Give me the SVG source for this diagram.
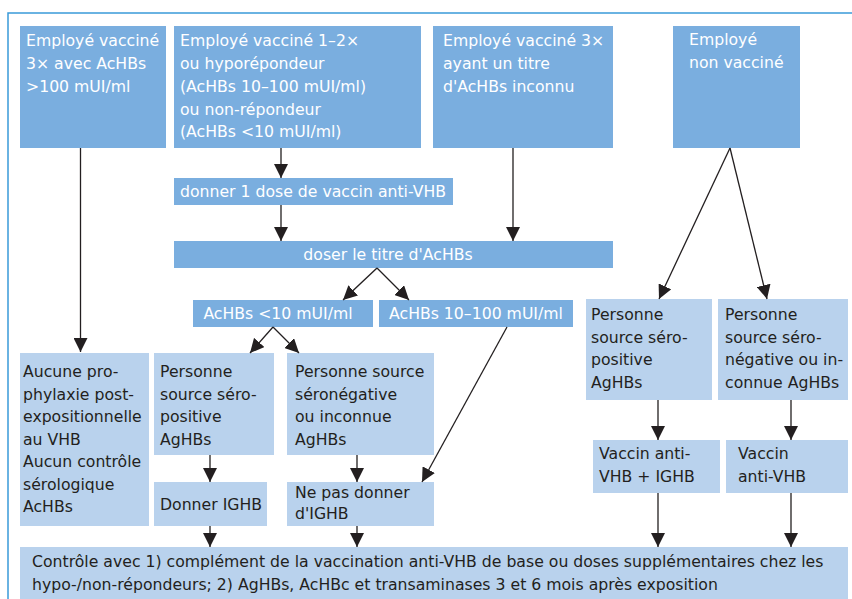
<svg xmlns="http://www.w3.org/2000/svg" width="852" height="599" viewBox="0 0 852 599">
<defs>
<marker id="ah" viewBox="0 0 14 14" refX="14" refY="7" markerWidth="14" markerHeight="14" markerUnits="userSpaceOnUse" orient="auto">
<path d="M0,0 L14,7 L0,14 Z" fill="#231f20"/>
</marker>
<style>
.dk{fill:#7aaedf}
.lt{fill:#b9d2ed}
text{font-family:"DejaVu Sans","Liberation Sans",sans-serif;font-size:15.7px}
.w{fill:#ffffff}
.b{fill:#231f20}
.c line,.c path{stroke:#231f20;stroke-width:1.3;fill:none;marker-end:url(#ah)}
</style>
</defs>
<rect width="852" height="599" fill="#ffffff"/>
<path d="M8,599 V13 H852" fill="none" stroke="#3a9ad9" stroke-width="1.5"/>

<g id="n1"><rect class="dk" x="20" y="26" width="146" height="122"/>
<text class="w" x="26"><tspan x="26" y="46">Employé vacciné</tspan><tspan x="26" y="69">3× avec AcHBs</tspan><tspan x="26" y="92">&gt;100 mUI/ml</tspan></text></g>

<g id="n2"><rect class="dk" x="174" y="26" width="247" height="122"/>
<text class="w"><tspan x="180" y="46">Employé vacciné 1–2×</tspan><tspan x="180" y="69">ou hyporépondeur</tspan><tspan x="180" y="92">(AcHBs 10–100 mUI/ml)</tspan><tspan x="180" y="115">ou non-répondeur</tspan><tspan x="180" y="137">(AcHBs &lt;10 mUI/ml)</tspan></text></g>

<g id="n3"><rect class="dk" x="433" y="26" width="180" height="122"/>
<text class="w"><tspan x="443" y="46">Employé vacciné 3×</tspan><tspan x="443" y="69">ayant un titre</tspan><tspan x="443" y="92">d'AcHBs inconnu</tspan></text></g>

<g id="n4"><rect class="dk" x="673" y="26" width="127" height="122"/>
<text class="w"><tspan x="689" y="45">Employé</tspan><tspan x="689" y="68">non vacciné</tspan></text></g>

<g id="n5"><rect class="dk" x="174" y="178" width="279" height="27"/>
<text class="w" x="180" y="197">donner 1 dose de vaccin anti-VHB</text></g>

<g id="n6"><rect class="dk" x="174" y="241" width="439" height="27"/>
<text class="w" x="388" y="260" text-anchor="middle">doser le titre d'AcHBs</text></g>

<g id="n7"><rect class="dk" x="193" y="300" width="180" height="27"/>
<text class="w" x="278" y="319" text-anchor="middle">AcHBs &lt;10 mUI/ml</text></g>

<g id="n8"><rect class="dk" x="379" y="300" width="194" height="27"/>
<text class="w" x="476" y="319" text-anchor="middle">AcHBs 10–100 mUI/ml</text></g>

<g id="n9"><rect class="lt" x="586" y="299" width="126" height="101"/>
<text class="b"><tspan x="591" y="320">Personne</tspan><tspan x="591" y="343">source séro-</tspan><tspan x="591" y="365">positive</tspan><tspan x="591" y="388">AgHBs</tspan></text></g>

<g id="n10"><rect class="lt" x="718" y="299" width="130" height="101"/>
<text class="b"><tspan x="725" y="320">Personne</tspan><tspan x="725" y="343">source séro-</tspan><tspan x="725" y="365">négative ou in-</tspan><tspan x="725" y="388">connue AgHBs</tspan></text></g>

<g id="n11"><rect class="lt" x="20" y="353" width="129" height="173"/>
<text class="b"><tspan x="23" y="377">Aucune pro-</tspan><tspan x="23" y="400">phylaxie post-</tspan><tspan x="23" y="422">expositionnelle</tspan><tspan x="23" y="445">au VHB</tspan><tspan x="23" y="467">Aucun contrôle</tspan><tspan x="23" y="490">sérologique</tspan><tspan x="23" y="512">AcHBs</tspan></text></g>

<g id="n12"><rect class="lt" x="154" y="353" width="120" height="102"/>
<text class="b"><tspan x="160" y="377">Personne</tspan><tspan x="160" y="400">source séro-</tspan><tspan x="160" y="422">positive</tspan><tspan x="160" y="445">AgHBs</tspan></text></g>

<g id="n13"><rect class="lt" x="287" y="353" width="147" height="102"/>
<text class="b"><tspan x="295" y="377">Personne source</tspan><tspan x="295" y="400">séronégative</tspan><tspan x="295" y="422">ou inconnue</tspan><tspan x="295" y="445">AgHBs</tspan></text></g>

<g id="n14"><rect class="lt" x="154" y="482" width="113" height="44"/>
<text class="b" x="160" y="510">Donner IGHB</text></g>

<g id="n15"><rect class="lt" x="287" y="482" width="147" height="44"/>
<text class="b"><tspan x="295" y="498">Ne pas donner</tspan><tspan x="295" y="519">d'IGHB</tspan></text></g>

<g id="n16"><rect class="lt" x="593" y="440" width="127" height="53"/>
<text class="b"><tspan x="599" y="459">Vaccin anti-</tspan><tspan x="599" y="482">VHB + IGHB</tspan></text></g>

<g id="n17"><rect class="lt" x="726" y="440" width="122" height="53"/>
<text class="b"><tspan x="738" y="459">Vaccin</tspan><tspan x="738" y="482">anti-VHB</tspan></text></g>

<g id="n18"><rect class="lt" x="20" y="547" width="828" height="52"/>
<text class="b"><tspan x="32" y="567">Contrôle avec 1) complément de la vaccination anti-VHB de base ou doses supplémentaires chez les</tspan><tspan x="32" y="590">hypo-/non-répondeurs; 2) AgHBs, AcHBc et transaminases 3 et 6 mois après exposition</tspan></text></g>

<g id="connectors" class="c">
<line x1="80.5" y1="148" x2="80.5" y2="352"/>
<line x1="281" y1="148" x2="281" y2="178"/>
<line x1="281" y1="205" x2="281" y2="241"/>
<line x1="513" y1="148" x2="513" y2="241"/>
<line x1="377" y1="268" x2="343" y2="300"/>
<line x1="377" y1="268" x2="409" y2="300"/>
<line x1="273" y1="327" x2="250" y2="353"/>
<line x1="273" y1="327" x2="299" y2="353"/>
<line x1="730" y1="148" x2="659" y2="299"/>
<line x1="730" y1="148" x2="767" y2="299"/>
<line x1="507" y1="327" x2="422" y2="482"/>
<line x1="210" y1="455" x2="210" y2="482"/>
<line x1="357" y1="455" x2="357" y2="482"/>
<line x1="658" y1="400" x2="658" y2="440"/>
<line x1="791" y1="400" x2="791" y2="440"/>
<line x1="210" y1="526" x2="210" y2="547"/>
<line x1="357" y1="526" x2="357" y2="547"/>
<line x1="658" y1="493" x2="658" y2="547"/>
<line x1="791" y1="493" x2="791" y2="547"/>
</g>
</svg>
